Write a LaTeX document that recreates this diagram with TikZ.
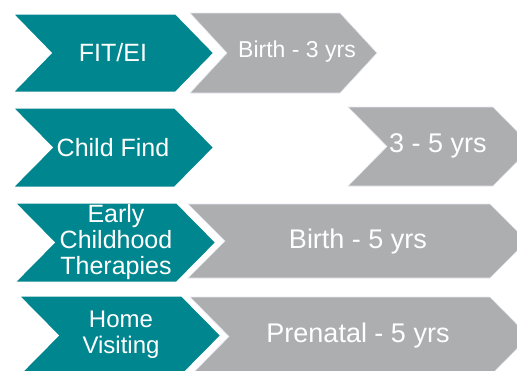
\documentclass[tikz,border=0pt]{standalone}
\usepackage{fontspec}
\setmainfont{Liberation Sans}
\definecolor{stageteal}{RGB}{0,134,143}
\definecolor{agegray}{RGB}{173,174,176}
% chevron: style, left, top, corner, bottom, depth
\newcommand{\chevron}[6]{\filldraw[#1] (#2,#3) -- (#4,#3) -- ({#4+#6},{(#3+#5)/2}) -- (#4,#5) -- (#2,#5) -- ({#2+#6},{(#3+#5)/2}) -- cycle;}
\begin{document}
\begin{tikzpicture}[x=1pt, y=-1pt,
        program/.style={fill=stageteal, draw=white, line width=3pt},
        age/.style={fill=agegray, draw=agegray!80!blue!20, line width=0.6pt},
        txt/.style={text=white, align=center, inner sep=0pt, font=\fontsize{27}{30}\selectfont}]
    \useasboundingbox (0,0) rectangle (517,370);
    \clip (0,0) rectangle (517,370);
    \chevron{age}{190}{13}{340}{93}{37}
    \chevron{age}{348}{107}{493}{186}{39}
    \chevron{age}{188}{204}{490}{278}{37}
    \chevron{age}{190}{297}{490}{376}{39}
    \chevron{program}{11}{13}{176}{93}{39}
    \chevron{program}{11}{107}{175}{188}{40}
    \chevron{program}{13}{202}{177}{283}{40}
    \chevron{program}{17}{295}{182}{376}{40}
    \node[txt, font=\fontsize{25}{28}\selectfont] (1) at (113,53) {FIT/EI};
    \node[txt, font=\fontsize{23}{26}\selectfont] (2) at (297,52) {Birth - 3 yrs};
    \node[txt, font=\fontsize{25}{28}\selectfont] (3) at (113,148) {Child Find};
    \node[txt] (4) at (438,146) {3 - 5 yrs};
    \node[txt, font=\fontsize{25}{26}\selectfont] (5) at (116,242) {Early\\Childhood\\Therapies};
    \node[txt] (6) at (358,242) {Birth - 5 yrs};
    \node[txt, font=\fontsize{24}{26}\selectfont] (7) at (121,335) {Home\\Visiting};
    \node[txt] (8) at (358,336) {Prenatal - 5 yrs};
\end{tikzpicture}
\end{document}
